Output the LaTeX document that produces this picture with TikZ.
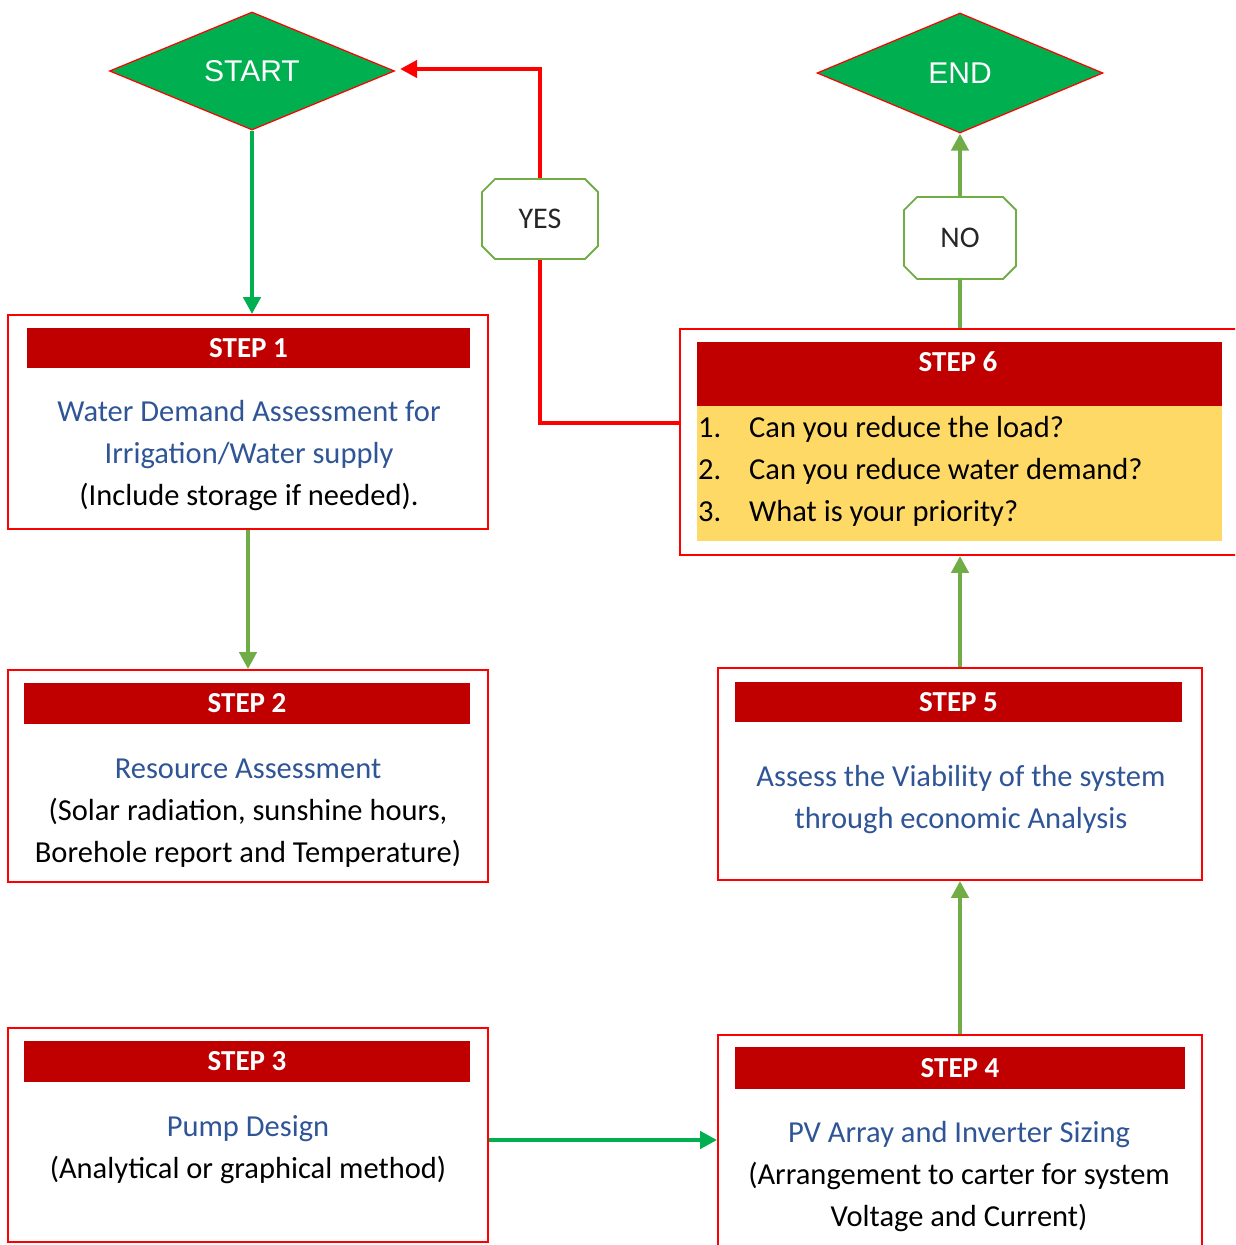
\documentclass[tikz,border=0pt]{standalone}
\usepackage{fontspec}
\setmainfont{Carlito}
\newfontfamily\arialfont{Liberation Sans}
\usetikzlibrary{shapes.geometric,shapes.misc,arrows.meta}
\definecolor{hdrred}{HTML}{C00000}
\definecolor{bodyblue}{HTML}{2F5597}
\definecolor{qyellow}{HTML}{FFD966}
\definecolor{brightgreen}{HTML}{00B050}
\definecolor{olivegreen}{HTML}{70AD47}
\begin{document}
\begin{tikzpicture}[x=1pt,y=-1pt,
  stepbox/.style={rectangle,draw=red,line width=1.8pt,fill=white,inner sep=0pt},
  hdrbar/.style={rectangle,fill=hdrred,inner sep=0pt},
  hdrtext/.style={text=white,font=\fontsize{29}{34}\selectfont\bfseries,inner sep=0pt},
  bodytext/.style={align=center,inner sep=0pt,font=\fontsize{30.5}{42}\selectfont},
  termdia/.style={diamond,fill=brightgreen,draw=red,line width=1.2pt,inner sep=0pt,
    text=white,font=\arialfont\fontsize{30}{34}\selectfont},
  answer/.style={chamfered rectangle,chamfered rectangle xsep=21pt,draw=olivegreen,
    line width=1.8pt,fill=white,inner sep=0pt,font=\fontsize{30}{34}\selectfont,text=black!85},
  conn/.style={line width=4.4pt,-{Triangle[length=17pt,width=17pt]}},
  plain/.style={line width=4.4pt}
]
\useasboundingbox (0,0) rectangle (1235,1245);
\clip (0,0) rectangle (1235,1245);

% terminals
\node[termdia,minimum width=285pt,minimum height=118pt] (start) at (252,71) {START};
\node[termdia,minimum width=286pt,minimum height=120pt] (end) at (960,73) {END};

% step boxes
\node[stepbox,minimum width=480pt,minimum height=214pt] (s1) at (248,422) {};
\node[stepbox,minimum width=480pt,minimum height=212pt] (s2) at (248,776) {};
\node[stepbox,minimum width=480pt,minimum height=214pt] (s3) at (248,1135) {};
\node[stepbox,minimum width=484pt,minimum height=230pt] (s4) at (960,1150) {};
\node[stepbox,minimum width=484pt,minimum height=212pt] (s5) at (960,774) {};
\node[stepbox,minimum width=570pt,minimum height=226pt] (s6) at (965,442) {};

% header bars
\node[hdrbar,minimum width=443pt,minimum height=40pt] (h1) at (248.5,348) {};
\node[hdrtext] (h1t) at (h1) {STEP 1};
\node[hdrbar,minimum width=446pt,minimum height=41pt] (h2) at (247,703.5) {};
\node[hdrtext] (h2t) at (h2) {STEP 2};
\node[hdrbar,minimum width=446pt,minimum height=41pt] (h3) at (247,1061.5) {};
\node[hdrtext] (h3t) at (h3) {STEP 3};
\node[hdrbar,minimum width=450pt,minimum height=42pt] (h4) at (960,1068) {};
\node[hdrtext] (h4t) at (h4) {STEP 4};
\node[hdrbar,minimum width=447pt,minimum height=40pt] (h5) at (958.5,702) {};
\node[hdrtext] (h5t) at (h5) {STEP 5};
\node[hdrbar,minimum width=525pt,minimum height=64pt] (h6) at (959.5,374) {};
\node[hdrtext] (h6t) at (958,362) {STEP 6};
\node[rectangle,fill=qyellow,inner sep=0pt,minimum width=525pt,minimum height=135pt] (q6) at (959.5,473.5) {};

% box texts
\node[bodytext] (t1) at (249,456) {\textcolor{bodyblue}{Water Demand Assessment for}\\
  \textcolor{bodyblue}{Irrigation/Water supply}\\(Include storage if needed).};
\node[bodytext] (t2) at (248,813) {\textcolor{bodyblue}{Resource Assessment}\\
  (Solar radiation, sunshine hours,\\Borehole report and Temperature)};
\node[bodytext] (t3) at (248,1150) {\textcolor{bodyblue}{Pump Design}\\(Analytical or graphical method)};
\node[bodytext] (t4) at (959,1177) {\textcolor{bodyblue}{PV Array and Inverter Sizing}\\
  (Arrangement to carter for system\\Voltage and Current)};
\node[bodytext] (t5) at (961,800) {\textcolor{bodyblue}{Assess the Viability of the system}\\
  \textcolor{bodyblue}{through economic Analysis}};
\node[bodytext,align=left,anchor=west] (t6) at (698,471)
  {\makebox[51pt][l]{1.}Can you reduce the load?\\
   \makebox[51pt][l]{2.}Can you reduce water demand?\\
   \makebox[51pt][l]{3.}What is your priority?};

% decision answers
\node[answer,minimum width=116pt,minimum height=80pt] (yes) at (540,219) {YES};
\node[answer,minimum width=112pt,minimum height=82pt] (no) at (960,238) {NO};

% flow connectors
\draw[conn,brightgreen] (start.south) -- (start.south |- s1.north);
\draw[conn,olivegreen] (s1.south) -- (s2.north);
\draw[conn,brightgreen] ([yshift=-5pt]s3.east) -- ([yshift=-5pt]s3.east -| s4.west);
\draw[conn,olivegreen] (s4.north) -- (s5.south);
\draw[conn,olivegreen] (s5.north) -- (s5.north |- s6.south);
\draw[plain,olivegreen] (no.south |- s6.north) -- (no.south);
\draw[conn,olivegreen] (no.north) -- (end.south);
\draw[plain,red,line join=miter] ([yshift=19pt]s6.west) -| (yes.south);
\draw[conn,red,line join=miter] (yes.north) |- ([xshift=5pt,yshift=2pt]start.east);
\end{tikzpicture}
\end{document}
